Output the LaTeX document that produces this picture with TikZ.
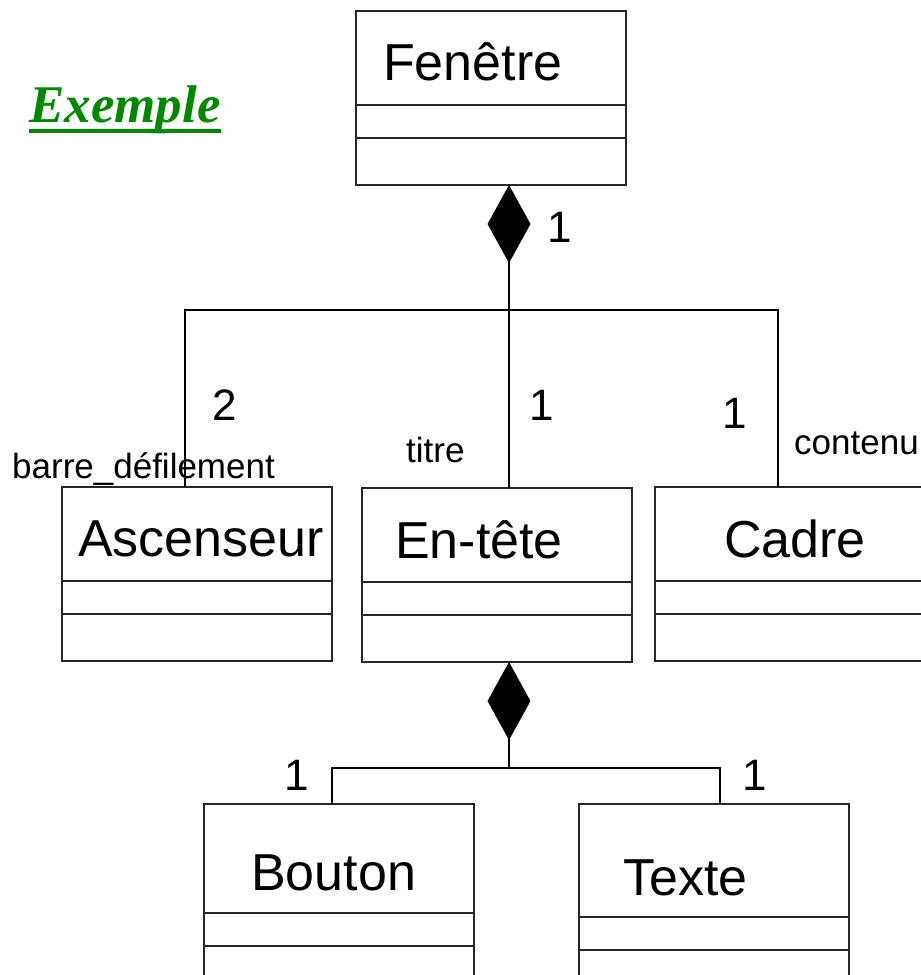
\documentclass[tikz,border=0pt]{standalone}
\usepackage{fontspec}
\setmainfont{Liberation Sans}
\newfontfamily\serifex{Liberation Serif}
\definecolor{exgreen}{RGB}{0,136,0}
\usetikzlibrary{arrows.meta,positioning}

\begin{document}
\begin{tikzpicture}[
    x=1pt, y=-1pt,
    cname/.style={rectangle,draw=black!85,line width=1.2pt,outer sep=0pt,inner sep=0pt,
                  minimum width=270pt,minimum height=#1,anchor=north west},
    cname/.default=94pt,
    cpart/.style={rectangle,draw=black!85,line width=1.2pt,outer sep=0pt,inner sep=0pt,
                  minimum width=270pt,minimum height=#1},
    cpart/.default=33pt,
    ctitle/.style={anchor=base west,inner sep=0pt,font=\fontsize{52}{60}\selectfont},
    role/.style={anchor=base west,inner sep=0pt,font=\fontsize{35}{42}\selectfont},
    mult/.style={anchor=base,inner sep=0pt,font=\fontsize{44}{50}\selectfont},
    conn/.style={draw,line width=1.8pt},
    comp/.style={conn,-{Diamond[length=78pt,width=43pt]}}
  ]
  \useasboundingbox (0,0) rectangle (921,975);
  \clip (0,0) rectangle (921,975);

  % titre
  \node[anchor=base west,inner sep=0pt,text=exgreen,
        font=\serifex\bfseries\itshape\fontsize{53}{60}\selectfont] (ex) at (29,122) {Exemple};
  \draw[exgreen,line width=4pt] ([yshift=-9pt]ex.base west) -- ([yshift=-9pt]ex.base east);

  % classes
  \node[cname] (fen) at (356,11) {};
  \node[cpart,below=0pt of fen] (fenA) {};
  \node[cpart=47pt,below=0pt of fenA] (fenO) {};
  \node[ctitle] (fenN) at (383,80) {Fenêtre};

  \node[cname] (asc) at (62,487) {};
  \node[cpart,below=0pt of asc] (ascA) {};
  \node[cpart=47pt,below=0pt of ascA] (ascO) {};
  \node[ctitle] (ascN) at (78,556) {Ascenseur};

  \node[cname] (ent) at (362,488) {};
  \node[cpart,below=0pt of ent] (entA) {};
  \node[cpart=47pt,below=0pt of entA] (entO) {};
  \node[ctitle] (entN) at (395,558) {En-tête};

  \node[cname] (cad) at (655,487) {};
  \node[cpart,below=0pt of cad] (cadA) {};
  \node[cpart=47pt,below=0pt of cadA] (cadO) {};
  \node[ctitle] (cadN) at (724,557) {Cadre};

  \node[cname=109pt] (bou) at (204,804) {};
  \node[cpart,below=0pt of bou] (bouA) {};
  \node[cpart=47pt,below=0pt of bouA] (bouO) {};
  \node[ctitle] (bouN) at (251,890) {Bouton};

  \node[cname=113pt] (tex) at (579,804) {};
  \node[cpart,below=0pt of tex] (texA) {};
  \node[cpart=47pt,below=0pt of texA] (texO) {};
  \node[ctitle] (texN) at (623,895) {Texte};

  % composition Fenetre
  \coordinate (hubA) at (509,310);
  \coordinate (barL) at (185,310);
  \coordinate (barR) at (778,310);
  \draw[comp] (ent.north -| hubA) -- (fenO.south -| hubA);
  \draw[conn] (asc.north -| barL) -- (barL) -- (barR) -- (barR |- cad.north);

  % composition En-tete
  \coordinate (hubB) at (509,768);
  \coordinate (botL) at (332,768);
  \coordinate (botR) at (720,768);
  \draw[comp] (hubB) -- (entO.south -| hubB);
  \draw[conn] (bou.north -| botL) -- (botL) -- (botR) -- (botR |- tex.north);

  % multiplicites et roles
  \node[mult] (mFen) at (560,242) {1};
  \node[mult] (mAsc) at (225,420) {2};
  \node[mult] (mEnt) at (542,420) {1};
  \node[mult] (mCad) at (735,428) {1};
  \node[mult] (mBou) at (297,790) {1};
  \node[mult] (mTex) at (755,790) {1};
  \node[role] (rAsc) at (12,478) {barre\_défilement};
  \node[role] (rEnt) at (406,462) {titre};
  \node[role] (rCad) at (794,454) {contenu};
\end{tikzpicture}
\end{document}
